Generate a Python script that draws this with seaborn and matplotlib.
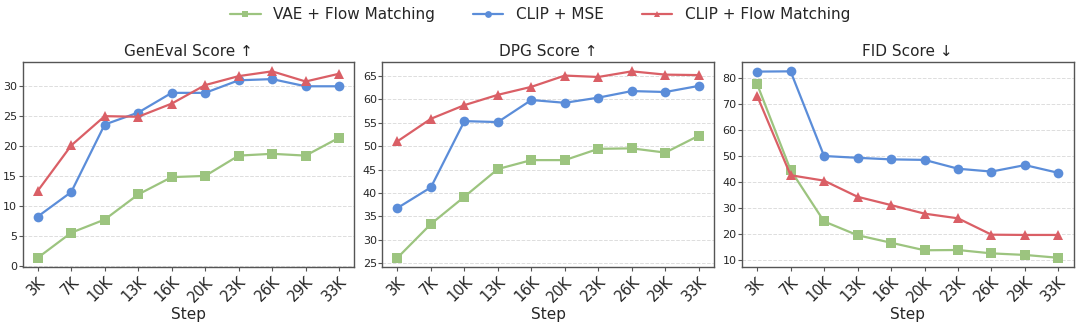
import matplotlib
matplotlib.use("Agg")
import matplotlib.pyplot as plt
import seaborn as sns
import pandas as pd

steps = ["3K", "7K", "10K", "13K", "16K", "20K", "23K", "26K", "29K", "33K"]
series_names = ["VAE + Flow Matching", "CLIP + MSE", "CLIP + Flow Matching"]

geneval_vae = [1.3, 5.5, 7.7, 11.9, 14.8, 15.0, 18.4, 18.7, 18.4, 21.4]
geneval_mse = [8.2, 12.3, 23.6, 25.6, 28.9, 28.9, 31.0, 31.2, 30.0, 30.0]
geneval_fm = [12.5, 20.1, 25.0, 24.9, 27.1, 30.2, 31.7, 32.5, 30.8, 32.1]

dpg_vae = [26.2, 33.4, 39.2, 45.1, 47.0, 47.0, 49.4, 49.5, 48.6, 52.2]
dpg_mse = [36.8, 41.2, 55.3, 55.1, 59.8, 59.2, 60.3, 61.7, 61.5, 62.8]
dpg_fm = [51.0, 55.8, 58.7, 60.9, 62.6, 65.0, 64.7, 65.9, 65.2, 65.1]

fid_vae = [77.7, 44.6, 24.8, 19.5, 16.6, 13.7, 13.8, 12.5, 11.9, 10.8]
fid_mse = [82.5, 82.6, 50.0, 49.3, 48.7, 48.5, 45.1, 44.0, 46.5, 43.5]
fid_fm = [73.2, 42.6, 40.5, 34.3, 31.1, 27.8, 26.0, 19.7, 19.6, 19.6]

titles = ["GenEval Score \u2191", "DPG Score \u2191", "FID Score \u2193"]
panels = [
    (geneval_vae, geneval_mse, geneval_fm),
    (dpg_vae, dpg_mse, dpg_fm),
    (fid_vae, fid_mse, fid_fm),
]

colors = ["#9CC47F", "#5B8DD9", "#DA5F66"]
markers = ["s", "o", "^"]

sns.set_theme(style="white")
plt.rcParams["font.family"] = ["DejaVu Sans"]

fig, axes = plt.subplots(1, 3, figsize=(10.8, 3.23), dpi=100)
fig.subplots_adjust(left=0.021, right=0.994, top=0.808, bottom=0.173, wspace=0.085)

handles = []
for ax, title, vals in zip(axes, titles, panels):
    idx = list(range(len(steps)))
    for name, v, c, m in zip(series_names, vals, colors, markers):
        df = pd.DataFrame({"x": idx, "y": v})
        sns.lineplot(data=df, x="x", y="y", ax=ax, color=c, marker=m,
                     markersize=7, linewidth=1.6, markeredgewidth=0, label=name)
    ax.set_title(title, fontsize=11, pad=4)
    ax.set_xticks(idx)
    ax.set_xticklabels(steps, rotation=45, ha="right", rotation_mode="anchor", fontsize=10.5)
    ax.tick_params(axis="x", length=3, width=0.8, color="#555555", pad=2, bottom=True)
    ax.tick_params(axis="y", labelsize=8, length=3, width=0.8, color="#555555", pad=1, left=True)
    ax.set_xlabel("Step", fontsize=11, labelpad=2)
    ax.set_ylabel("")
    ax.set_xlim(-0.45, 9.45)
    ax.yaxis.grid(True, linestyle="--", color="#dddddd", linewidth=0.7)
    ax.xaxis.grid(False)
    for s in ax.spines.values():
        s.set_color("#555555")
        s.set_linewidth(1.0)
    h, l = ax.get_legend_handles_labels()
    handles = (h, l)
    ax.get_legend().remove()

fig.legend(handles[0], handles[1], loc="upper center", ncol=3, frameon=False,
           fontsize=11, bbox_to_anchor=(0.5, 1.02), columnspacing=2.5,
           handlelength=2.0, markerscale=0.7)

fig.savefig("out.png", dpi=100)
